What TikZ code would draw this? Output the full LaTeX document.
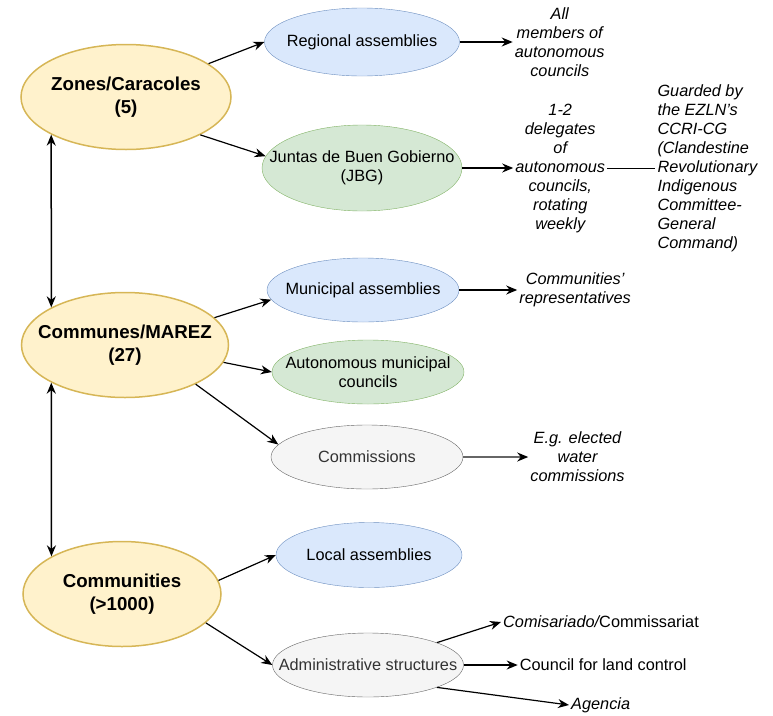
\documentclass[tikz,border=0pt]{standalone}
\usepackage{fontspec}
\setmainfont{Liberation Sans}
\usetikzlibrary{shapes.geometric,arrows.meta,positioning}

\definecolor{yellowfill}{HTML}{FFF2CC}
\definecolor{yellowline}{HTML}{D6B656}
\definecolor{bluefill}{HTML}{DAE8FC}
\definecolor{blueline}{HTML}{6C8EBF}
\definecolor{greenfill}{HTML}{D5E8D4}
\definecolor{greenline}{HTML}{82B366}
\definecolor{greyfill}{HTML}{F5F5F5}
\definecolor{greyline}{HTML}{666666}
\definecolor{greytext}{HTML}{333333}

\newcommand{\normalsz}{\fontsize{16.3}{19}\selectfont}
\newcommand{\bigsz}{\fontsize{18.7}{23}\selectfont}

\tikzset{
  blob/.style={ellipse, draw, inner xsep=-40pt, inner ysep=0pt, align=center, font=\normalsz},
  tier/.style={blob, draw=yellowline, fill=yellowfill, line width=1.5pt,
    minimum width=#1, minimum height=105pt, font=\bigsz\bfseries},
  bluebox/.style={blob, draw=blueline, fill=bluefill, minimum width=#1},
  greenbox/.style={blob, draw=greenline, fill=greenfill, minimum width=#1},
  greybox/.style={blob, draw=greyline, fill=greyfill, text=greytext, minimum width=#1},
  note/.style={align=center, font=\normalsz\itshape, inner sep=2pt},
  plainnote/.style={note, font=\normalsz},
  link/.style={->, line width=1.2pt},
  updown/.style={<->, line width=1.5pt}
}

\begin{document}
\begin{tikzpicture}[x=1pt,y=-1pt,>={Stealth[length=11pt,width=9pt]}]
\useasboundingbox (0,0) rectangle (773,715);

% levels
\node (zones) [tier=210pt] at (126,97) {Zones/Caracoles\\(5)};
\node (communes) [tier=207pt] at (125,345) {Communes/MAREZ\\(27)};
\node (communities) [tier=198pt] at (122,594) {Communities\\(>1000)};

% bodies
\node (regional) [bluebox=195pt, minimum height=68pt] at (362,42) {Regional assemblies};
\node (juntas) [greenbox=200pt, minimum height=86pt] at (362,168) {Juntas de Buen Gobierno\\(JBG)};
\node (municipal) [bluebox=192pt, minimum height=64pt] at (363,290) {Municipal assemblies};
\node (autonomous) [greenbox=192pt, minimum height=64pt] at (368,372) {Autonomous municipal\\councils};
\node (commissions) [greybox=192pt, minimum height=64pt] at (367,457) {Commissions};
\node (local) [bluebox=186pt, minimum height=65pt] at (369,555) {Local assemblies};
\node (admin) [greybox=191pt, minimum height=64pt] at (368,665) {Administrative structures};

% notes
\node (allmem) [note, right=53pt of regional] {All\\members of\\autonomous\\councils};
\node (deleg) [note, right=51pt of juntas] {1-2\\delegates\\of\\autonomous\\councils,\\rotating\\weekly};
\node (guard) [note, align=left, right=48pt of deleg] {Guarded by\\the EZLN’s\\CCRI-CG\\(Clandestine\\Revolutionary\\Indigenous\\Committee-\\General\\Command)};
\node (commrep) [note, right=58pt of municipal] {Communities’\\representatives};
\node (water) [note, right=65pt of commissions] {E.g. elected\\water\\commissions};
\node (comis) [note, anchor=west] at (501,622) {Comisariado/\upshape Commissariat};
\node (land) [plainnote, right=54pt of admin] {Council for land control};
\node (agencia) [note, anchor=west] at (569,705) {Agencia};

\draw[updown] (zones.south west) -- (communes.north west);
\draw[updown] (communes.south west) -- (communities.north west);

\draw[link] (zones.22) -- (regional.west);
\draw[link] (zones.-27) -- (juntas.173);
\draw[link] (communes.17) -- (municipal.186);
\draw[link] (communes.-10) -- (autonomous.west);
\draw[link] (communes.-29) -- (commissions.172);
\draw[link] (communities.8) -- (local.west);
\draw[link] (communities.-19) -- (admin.west);

\draw[link] (regional) -- (allmem);
\draw[link] (juntas) -- (deleg);
\draw[line width=0.6pt] (deleg) -- (guard);
\draw[link] (municipal) -- (commrep);
\draw[link, draw=greyline, -{Stealth[length=11pt,width=9pt,black]}] (commissions) -- (water);
\draw[link] (admin.18) -- (comis.west);
\draw[link] (admin) -- (land);
\draw[link] (admin.-18) -- (agencia.west);
\end{tikzpicture}
\end{document}
